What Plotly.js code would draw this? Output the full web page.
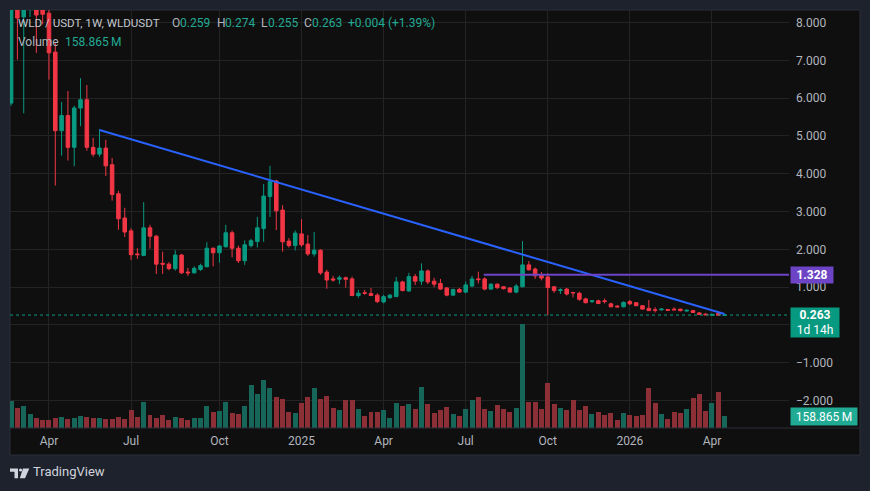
<!DOCTYPE html>
<html><head><meta charset="utf-8">
<script src="https://cdn.plot.ly/plotly-3.0.1.min.js"></script>
<style>html,body{margin:0;padding:0;background:#1e222d;overflow:hidden}#chart{width:870px;height:491px}</style>
</head><body><div id="chart"></div>
<script>
const weeks = [
'2024-02-19','2024-02-26','2024-03-04','2024-03-11','2024-03-18','2024-03-25','2024-04-01','2024-04-08','2024-04-15','2024-04-22',
'2024-04-29','2024-05-06','2024-05-13','2024-05-20','2024-05-27','2024-06-03','2024-06-10','2024-06-17','2024-06-24','2024-07-01',
'2024-07-08','2024-07-15','2024-07-22','2024-07-29','2024-08-05','2024-08-12','2024-08-19','2024-08-26','2024-09-02','2024-09-09',
'2024-09-16','2024-09-23','2024-09-30','2024-10-07','2024-10-14','2024-10-21','2024-10-28','2024-11-04','2024-11-11','2024-11-18',
'2024-11-25','2024-12-02','2024-12-09','2024-12-16','2024-12-23','2024-12-30','2025-01-06','2025-01-13','2025-01-20','2025-01-27',
'2025-02-03','2025-02-10','2025-02-17','2025-02-24','2025-03-03','2025-03-10','2025-03-17','2025-03-24','2025-03-31','2025-04-07',
'2025-04-14','2025-04-21','2025-04-28','2025-05-05','2025-05-12','2025-05-19','2025-05-26','2025-06-02','2025-06-09','2025-06-16',
'2025-06-23','2025-06-30','2025-07-07','2025-07-14','2025-07-21','2025-07-28','2025-08-04','2025-08-11','2025-08-18','2025-08-25',
'2025-09-01','2025-09-08','2025-09-15','2025-09-22','2025-09-29','2025-10-06','2025-10-13','2025-10-20','2025-10-27','2025-11-03',
'2025-11-10','2025-11-17','2025-11-24','2025-12-01','2025-12-08','2025-12-15','2025-12-22','2025-12-29','2026-01-05','2026-01-12',
'2026-01-19','2026-01-26','2026-02-02','2026-02-09','2026-02-16','2026-02-23','2026-03-02','2026-03-09','2026-03-16','2026-03-23',
'2026-03-30','2026-04-06','2026-04-13','2026-04-20'];
const opens = [
5.87,8.6,8.15,9.5,10.2,8.6,8.25,7.22,5.14,5.54,
4.70,5.74,5.96,4.70,4.52,4.68,4.24,3.47,2.83,2.49,
1.88,1.84,2.57,2.35,1.63,1.61,1.49,1.85,1.40,1.38,
1.47,1.54,2.03,1.91,2.07,2.44,2.03,1.70,2.10,2.21,
2.55,3.40,3.81,3.04,2.22,2.10,2.41,2.14,1.88,1.98,
1.40,1.22,1.21,1.25,1.22,0.78,0.85,0.83,0.79,0.61,
0.72,0.75,1.14,0.90,1.28,1.16,1.43,1.16,1.10,0.98,
0.79,0.94,0.87,1.03,1.22,1.22,0.95,1.08,1.01,0.98,
0.87,1.01,1.59,1.48,1.32,1.27,1.01,0.91,0.95,0.86,
0.84,0.69,0.62,0.64,0.64,0.56,0.50,0.48,0.62,0.59,
0.51,0.44,0.40,0.40,0.41,0.42,0.42,0.37,0.38,0.32,
0.29,0.26,0.30,0.259];
const highs = [
8.9,8.9,10.0,11.7,10.5,8.9,8.6,7.46,5.9,6.19,
5.80,6.53,6.35,4.95,5.18,4.90,4.42,3.55,3.10,2.56,
2.03,3.25,2.65,2.38,1.94,1.66,1.98,1.88,1.51,1.55,
1.62,2.19,2.05,2.12,2.65,2.50,2.10,2.24,2.28,2.86,
3.73,4.21,3.84,3.17,2.30,2.50,2.80,2.38,2.46,2.00,
1.46,1.30,1.31,1.28,1.28,0.93,0.93,0.98,0.84,0.80,
0.82,1.27,1.17,1.38,1.35,1.63,1.47,1.25,1.22,1.00,
0.96,0.98,1.15,1.30,1.41,1.26,1.10,1.10,1.03,0.99,
1.08,2.22,1.69,1.52,1.40,1.37,1.03,0.97,0.98,0.88,
0.88,0.72,0.66,0.67,0.70,0.59,0.52,0.62,0.66,0.60,
0.52,0.66,0.47,0.44,0.42,0.47,0.43,0.40,0.40,0.34,
0.31,0.30,0.36,0.274];
const lows = [
5.80,7.02,5.6,8.15,7.2,7.95,6.49,3.69,4.48,4.35,
4.20,5.26,4.61,4.45,4.45,3.94,3.29,2.52,2.33,1.72,
1.75,1.82,2.02,1.35,1.35,1.45,1.44,1.35,1.30,1.36,
1.43,1.54,1.55,1.65,2.05,1.79,1.64,1.59,2.05,2.05,
2.20,2.86,2.51,1.94,2.05,1.97,2.07,1.83,1.81,1.33,
0.96,1.15,1.08,0.99,0.76,0.72,0.80,0.77,0.58,0.57,
0.70,0.75,0.89,0.88,1.06,1.06,1.08,1.00,0.93,0.76,
0.78,0.85,0.84,1.00,1.10,0.92,0.93,0.95,0.94,0.86,
0.84,1.00,1.44,1.22,1.18,0.26,0.85,0.82,0.78,0.73,
0.64,0.57,0.58,0.55,0.57,0.47,0.46,0.47,0.53,0.50,
0.41,0.37,0.33,0.38,0.37,0.39,0.36,0.35,0.32,0.27,
0.26,0.25,0.25,0.255];
const closes = [
8.6,8.12,9.5,10.2,8.2,8.22,7.2,5.14,5.54,4.70,
5.74,5.96,4.70,4.52,4.68,4.21,3.45,2.81,2.46,1.86,
1.86,2.57,2.35,1.61,1.61,1.49,1.85,1.38,1.38,1.50,
1.57,2.03,1.91,2.09,2.44,2.03,1.70,2.12,2.23,2.57,
3.41,3.79,3.02,2.20,2.10,2.43,2.12,1.88,1.98,1.38,
1.19,1.19,1.25,1.21,0.78,0.84,0.84,0.78,0.62,0.75,
0.79,1.14,0.91,1.28,1.16,1.43,1.14,1.08,0.95,0.79,
0.94,0.87,1.06,1.22,1.20,0.95,1.08,0.99,0.96,0.87,
1.03,1.59,1.46,1.30,1.24,0.99,0.91,0.93,0.82,0.85,
0.68,0.59,0.64,0.57,0.62,0.48,0.48,0.60,0.56,0.51,
0.42,0.38,0.39,0.42,0.39,0.40,0.38,0.39,0.33,0.28,
0.27,0.28,0.2594,0.263];
const volumesM = [
345,262,288,185,133,99,99,133,146,112,
125,159,146,125,125,112,112,146,112,236,
146,340,172,133,172,99,146,133,99,133,
133,288,211,224,340,198,185,288,559,443,
624,521,404,379,211,198,327,404,521,379,
417,262,236,366,366,249,159,211,211,236,
133,327,288,314,249,534,314,198,236,275,
185,159,249,366,404,249,224,301,249,211,
262,1348,340,340,249,585,314,262,236,366,
236,288,185,211,172,198,107,198,172,159,
172,521,327,185,120,211,198,249,391,443,
224,327,469,158.865];
const timeTickDates = ['2024-04-01','2024-07-01','2024-10-07','2025-01-06','2025-04-07','2025-07-07','2025-10-06','2026-01-05','2026-04-06'];
const timeTickLabels = ['Apr','Jul','Oct','2025','Apr','Jul','Oct','2026','Apr'];
const priceTicks = [-2,-1,0,1,2,3,4,5,6,7,8];
const trendDates = ['2024-05-27','2026-04-20'];
const trendValues = [5.16,0.29];
const levelStart = '2025-07-27';
const levelValue = 1.328;
const symbolTitle = 'WLD / USDT, 1W, WLDUSDT';
const countdown = '1d 14h';

const W=870,H=491,ML=10,MR=81,MT=10,MB=63;
const PW=W-ML-MR, PH=H-MT-MB;
const px = x => (x-ML)/PW;
const py = y => (H-MB-y)/PH;
const UP='#089981', DN='#f23645';
const last = closes.length-1;
const fmt = v => v===0 ? '' : (v<0?'\u2212':'')+Math.abs(v).toFixed(3);
const volColors = closes.map((c,i)=> c>=opens[i] ? '#17665a' : '#8c2f37');
const FONT = 'Roboto, "Noto Sans", sans-serif';

const traces = [
  {type:'bar', x:weeks, y:volumesM, yaxis:'y', marker:{color:volColors, line:{width:0}},
   width:0.79*7*86400000, hoverinfo:'skip'},
  {type:'candlestick', x:weeks, open:opens, high:highs, low:lows, close:closes, yaxis:'y2',
   increasing:{line:{color:UP,width:1}, fillcolor:UP},
   decreasing:{line:{color:DN,width:1}, fillcolor:DN},
   whiskerwidth:0, hoverinfo:'skip'}
];

const diff = closes[last]-closes[last-1];
const pct = diff/closes[last-1]*100;
const gray = '#b2b5be', green = '#22ab94';
function ann(x, y, text, color, size, extra){
  return Object.assign({xref:'paper', yref:'paper', x:px(x), y:py(y), xanchor:'left', yanchor:'middle',
    text:text, showarrow:false, borderpad:0, font:{family:FONT, size:size||12, color:color}}, extra||{});
}
const annotations = [
  ann(17,23,symbolTitle,'#c3c6ce',11.6),
  ann(171,23,'O',gray,12), ann(179,23,opens[last].toFixed(3),green,12),
  ann(216,23,'H',gray,12), ann(224,23,highs[last].toFixed(3),green,12),
  ann(260,23,'L',gray,12), ann(267,23,lows[last].toFixed(3),green,12),
  ann(303,23,'C',gray,12), ann(311,23,closes[last].toFixed(3),green,12),
  ann(347,23,(diff>=0?'+':'')+diff.toFixed(3)+' ('+(pct>=0?'+':'')+pct.toFixed(2)+'%)',green,12),
  ann(17,42,'Volume',gray,12),
  ann(64,42,volumesM[last].toFixed(3)+'\u2009M',green,12),
  ann(32,472,'TradingView','#d1d4dc',13),
  {xref:'paper', yref:'y2', x:px(790), y:levelValue, xanchor:'left', yanchor:'middle', text:'<b>'+levelValue.toFixed(3)+'</b>',
   showarrow:false, bgcolor:'#6d44c6', width:42, height:16, borderpad:0, align:'center',
   font:{family:FONT,size:12,color:'#ffffff'}},
  {xref:'paper', yref:'paper', x:px(790), y:py(307), xanchor:'left', yanchor:'top', text:'<b>'+closes[last].toFixed(3)+'</b><br>'+countdown,
   showarrow:false, bgcolor:UP, width:48, height:29, borderpad:0, align:'center',
   font:{family:FONT,size:12,color:'#ffffff'}},
  {xref:'paper', yref:'paper', x:px(790), y:py(416.5), xanchor:'left', yanchor:'middle', text:volumesM[last].toFixed(3)+'\u2009M',
   showarrow:false, bgcolor:'#22ab94', width:66, height:17, borderpad:0, align:'center',
   font:{family:FONT,size:12,color:'#ffffff'}}
];

const logoPath = 'M '+px(10)+' '+py(468.5)+' L '+px(18)+' '+py(468.5)+' L '+px(18)+' '+py(478.3)+' L '+px(14.5)+' '+py(478.3)+' L '+px(14.5)+' '+py(471.8)+' L '+px(10)+' '+py(471.8)+' Z';
const logoSlash = 'M '+px(23)+' '+py(468.5)+' L '+px(29.3)+' '+py(468.5)+' L '+px(25)+' '+py(478.3)+' L '+px(19.8)+' '+py(478.3)+' Z';

const shapes = [
  {type:'rect', xref:'paper', yref:'paper', x0:px(10), x1:px(860), y0:py(455), y1:py(10), fillcolor:'#0f0f0f', line:{color:'#2a2e39',width:1}, layer:'below'},
  {type:'line', xref:'paper', yref:'paper', x0:px(10), x1:px(860), y0:0, y1:0, line:{color:'#2a2e39',width:1}},
  {type:'line', xref:'paper', yref:'y2', x0:0, x1:1, y0:closes[last], y1:closes[last], line:{color:UP,width:1,dash:'dot'}},
  {type:'line', xref:'x', yref:'y2', x0:trendDates[0], x1:trendDates[1], y0:trendValues[0], y1:trendValues[1], line:{color:'#2962ff',width:2}},
  {type:'line', xref:'x', yref:'y2', x0:levelStart, x1:'2026-12-31', y0:levelValue, y1:levelValue, line:{color:'#6d44c6',width:2}},
  {type:'path', xref:'paper', yref:'paper', path:logoPath, fillcolor:'#d1d4dc', line:{width:0}},
  {type:'path', xref:'paper', yref:'paper', path:logoSlash, fillcolor:'#d1d4dc', line:{width:0}},
  {type:'circle', xref:'paper', yref:'paper', x0:px(19), x1:px(22.2), y0:py(468.4), y1:py(471.6), fillcolor:'#d1d4dc', line:{width:0}}
];

const layout = {
  width:W, height:H, margin:{l:ML,r:MR,t:MT,b:MB,pad:0},
  paper_bgcolor:'#1e222d', plot_bgcolor:'#0f0f0f', showlegend:false,
  boxgap:0.2, bargap:0,
  xaxis:{type:'date', range:['2024-02-17 19:00','2026-06-30 10:00'], tickvals:timeTickDates, ticktext:timeTickLabels,
    showgrid:true, gridcolor:'#232323', gridwidth:1, zeroline:false, showline:false, ticks:'',
    tickfont:{family:FONT,size:12,color:gray}, ticklabelstandoff:4, rangeslider:{visible:false}, fixedrange:true},
  yaxis:{range:[0,5400], visible:false, showgrid:false, zeroline:false, fixedrange:true},
  yaxis2:{overlaying:'y', side:'right', range:[-2.725,8.333], tickvals:priceTicks, ticktext:priceTicks.map(fmt),
    showgrid:true, gridcolor:'#232323', zeroline:false, showline:false, ticks:'', ticklabelstandoff:6,
    tickfont:{family:FONT,size:12,color:gray}, fixedrange:true},
  shapes:shapes, annotations:annotations
};
Plotly.newPlot('chart', traces, layout, {displayModeBar:false, staticPlot:true});
</script></body></html>
